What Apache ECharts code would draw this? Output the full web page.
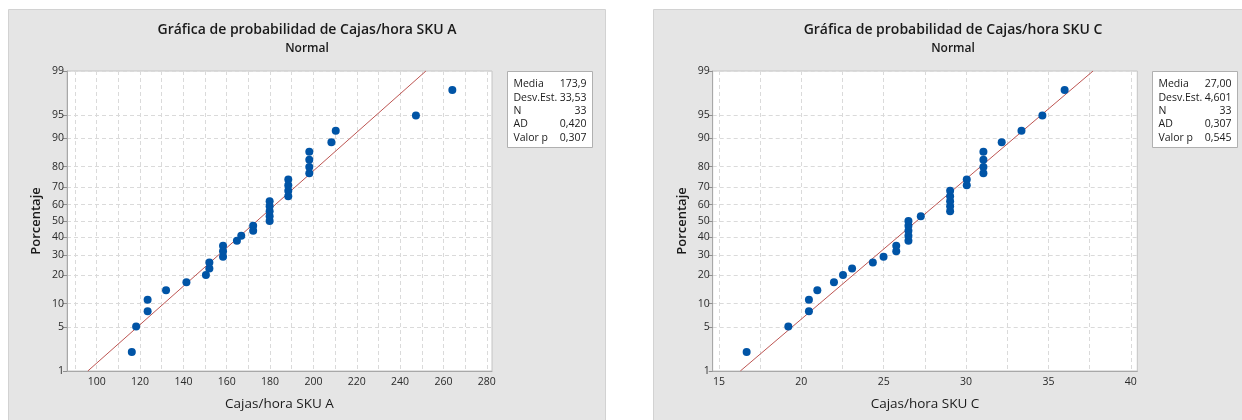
<!DOCTYPE html>
<html><head><meta charset="utf-8">
<script src="https://cdn.jsdelivr.net/npm/echarts@6/dist/echarts.min.js"></script>
<style>html,body{margin:0;padding:0;background:#fff}#c{width:1242px;height:420px}</style>
</head><body><div id="c"></div>
<script>
// ---- data ----
const percentiles = [2.1,5.1,8.1,11.1,14.1,17.1,20.1,23.1,26.0,29.0,32.0,35.0,38.0,41.0,44.0,47.0,50.0,53.0,56.0,59.0,62.0,65.0,68.0,71.0,74.0,77.0,79.9,82.9,85.9,88.9,91.9,94.9,97.9];
const skuA = [116.2,118.2,123.5,123.5,132.0,141.4,150.4,152.0,152.0,158.3,158.3,158.3,164.7,166.7,172.2,172.2,179.8,179.8,179.8,179.8,179.8,188.4,188.4,188.4,188.4,198.1,198.1,198.1,198.1,208.3,210.3,247.3,264.1];
const skuC = [16.68,19.21,20.46,20.46,20.97,21.98,22.53,23.08,24.34,24.99,25.76,25.76,26.50,26.50,26.50,26.50,26.50,27.25,29.03,29.03,29.03,29.03,29.03,30.04,30.04,31.05,31.05,31.05,31.05,32.16,33.36,34.63,35.98];
const yTickPercents = [1,5,10,20,30,40,50,60,70,80,90,95,99];
const xLabelsA = [100,120,140,160,180,200,220,240,260,280];
const xGridA = [90,100,110,120,130,140,150,160,170,180,190,200,210,220,230,240,250,260,270,280];
const xLabelsC = [15,20,25,30,35,40];
const xGridC = [15,17.5,20,22.5,25,27.5,30,32.5,35,37.5,40];
const xRangeA = [86.3,282.4];
const xRangeC = [14.62,40.39];
const statLabels = ['Media','Desv.Est.','N','AD','Valor p'];
const statsA = ['173,9','33,53','33','0,420','0,307'];
const statsC = ['27,00','4,601','33','0,307','0,545'];
const meanA = 173.9, sdA = 33.53, meanC = 27.00, sdC = 4.601;
const titleA = 'Gráfica de probabilidad de Cajas/hora SKU A';
const titleC = 'Gráfica de probabilidad de Cajas/hora SKU C';
const subTitle = 'Normal';
const xNameA = 'Cajas/hora SKU A', xNameC = 'Cajas/hora SKU C';
const yName = 'Porcentaje';

// ---- normal probability scale ----
function normInv(p){
  const a=[-3.969683028665376e+01,2.209460984245205e+02,-2.759285104469687e+02,1.383577518672690e+02,-3.066479806614716e+01,2.506628277459239e+00];
  const b=[-5.447609879822406e+01,1.615858368580409e+02,-1.556989798598866e+02,6.680131188771972e+01,-1.328068155288572e+01];
  const c=[-7.784894002430293e-03,-3.223964580411365e-01,-2.400758277161838e+00,-2.549732539343734e+00,4.374664141464968e+00,2.938163982698783e+00];
  const d=[7.784695709041462e-03,3.224671290700398e-01,2.445134137142996e+00,3.754408661907416e+00];
  const pl=0.02425, ph=1-pl; let q,r;
  if(p<pl){q=Math.sqrt(-2*Math.log(p));return (((((c[0]*q+c[1])*q+c[2])*q+c[3])*q+c[4])*q+c[5])/((((d[0]*q+d[1])*q+d[2])*q+d[3])*q+1);}
  if(p>ph){q=Math.sqrt(-2*Math.log(1-p));return -(((((c[0]*q+c[1])*q+c[2])*q+c[3])*q+c[4])*q+c[5])/((((d[0]*q+d[1])*q+d[2])*q+d[3])*q+1);}
  q=p-0.5;r=q*q;return (((((a[0]*r+a[1])*r+a[2])*r+a[3])*r+a[4])*r+a[5])*q/(((((b[0]*r+b[1])*r+b[2])*r+b[3])*r+b[4])*r+1);
}
const yTickZ = yTickPercents.map(p=>normInv(p/100));
const zMin = yTickZ[0], zMax = yTickZ[yTickZ.length-1];
function yLabel(v){let bi=0,bd=1e9;yTickZ.forEach((z,i)=>{const dd=Math.abs(z-v);if(dd<bd){bd=dd;bi=i;}});return String(yTickPercents[bi]);}

const FONT = 'Open Sans';
const gridLine = {show:true, lineStyle:{color:'#dadada', type:[4,3], width:1}};

function xAxisCfg(gi, range, grid, labels, name){
  return {type:'value', gridIndex:gi, min:range[0], max:range[1],
    axisLine:{show:true, onZero:false, lineStyle:{color:'#a8a8a8'}},
    axisTick:{show:false, customValues:grid},
    axisLabel:{customValues:labels, fontFamily:FONT, fontSize:10.5, color:'#2a2a2a', margin:6},
    splitLine:gridLine,
    name:name, nameLocation:'middle', nameGap:26,
    nameTextStyle:{fontFamily:FONT, fontSize:13.5, color:'#1a1a1a'}};
}
function yAxisCfg(gi){
  return {type:'value', gridIndex:gi, min:zMin, max:zMax,
    axisLine:{show:true, lineStyle:{color:'#a8a8a8'}},
    axisTick:{show:true, length:4, customValues:yTickZ, lineStyle:{color:'#909090'}},
    axisLabel:{customValues:yTickZ, formatter:yLabel, fontFamily:FONT, fontSize:10.5, color:'#2a2a2a', margin:3},
    splitLine:gridLine,
    name:yName, nameLocation:'middle', nameGap:24, nameRotate:90,
    nameTextStyle:{fontFamily:FONT, fontSize:13, fontWeight:600, color:'#1a1a1a'}};
}
function pts(xs){return xs.map((x,i)=>[x, normInv(percentiles[i]/100)]);}
function fit(m,s){return [[m+zMin*s, zMin],[m+zMax*s, zMax]];}

function statBox(x, y, labels, values){
  const els=[{type:'rect', shape:{x:x, y:y, width:85, height:76}, style:{fill:'#fff', stroke:'#b0b0b0', lineWidth:1}}];
  labels.forEach((l,i)=>{
    els.push({type:'text', x:x+6, y:y+13+i*13.3, style:{text:l, font:'10.5px "'+FONT+'"', fill:'#1a1a1a', textVerticalAlign:'middle'}});
    els.push({type:'text', x:x+79, y:y+13+i*13.3, style:{text:values[i], font:'10.5px "'+FONT+'"', fill:'#1a1a1a', textAlign:'right', textVerticalAlign:'middle'}});
  });
  return {type:'group', children:els};
}

const chart = echarts.init(document.getElementById('c'));
chart.setOption({
  animation:false,
  graphic:[
    {type:'rect', z:-10, shape:{x:8.5, y:9.5, width:597, height:420}, style:{fill:'#e5e5e5', stroke:'#d2d2d2'}},
    {type:'rect', z:-10, shape:{x:653.5, y:9.5, width:600, height:420}, style:{fill:'#e5e5e5', stroke:'#d2d2d2'}},
    {type:'text', x:307, y:30, style:{text:titleA, font:'600 14px "'+FONT+'"', fill:'#1a1a1a', textAlign:'center', textVerticalAlign:'middle'}},
    {type:'text', x:307, y:49, style:{text:subTitle, font:'600 12px "'+FONT+'"', fill:'#1a1a1a', textAlign:'center', textVerticalAlign:'middle'}},
    {type:'text', x:953, y:30, style:{text:titleC, font:'600 14px "'+FONT+'"', fill:'#1a1a1a', textAlign:'center', textVerticalAlign:'middle'}},
    {type:'text', x:953, y:49, style:{text:subTitle, font:'600 12px "'+FONT+'"', fill:'#1a1a1a', textAlign:'center', textVerticalAlign:'middle'}},
    statBox(507.5, 71.5, statLabels, statsA),
    statBox(1152.5, 71.5, statLabels, statsC)
  ],
  grid:[
    {left:67, top:71, width:425, height:300, show:true, backgroundColor:'#fff', borderColor:'#c4c4c4', borderWidth:1},
    {left:712.7, top:71, width:424.6, height:300, show:true, backgroundColor:'#fff', borderColor:'#c4c4c4', borderWidth:1}
  ],
  xAxis:[xAxisCfg(0, xRangeA, xGridA, xLabelsA, xNameA), xAxisCfg(1, xRangeC, xGridC, xLabelsC, xNameC)],
  yAxis:[yAxisCfg(0), yAxisCfg(1)],
  series:[
    {type:'line', xAxisIndex:0, yAxisIndex:0, data:fit(meanA,sdA), showSymbol:false, lineStyle:{color:'#bd5552', width:1}, z:2},
    {type:'scatter', xAxisIndex:0, yAxisIndex:0, data:pts(skuA), symbolSize:8, itemStyle:{color:'#0054a6', opacity:1}, z:3},
    {type:'line', xAxisIndex:1, yAxisIndex:1, data:fit(meanC,sdC), showSymbol:false, lineStyle:{color:'#bd5552', width:1}, z:2},
    {type:'scatter', xAxisIndex:1, yAxisIndex:1, data:pts(skuC), symbolSize:8, itemStyle:{color:'#0054a6', opacity:1}, z:3}
  ]
});
</script></body></html>
